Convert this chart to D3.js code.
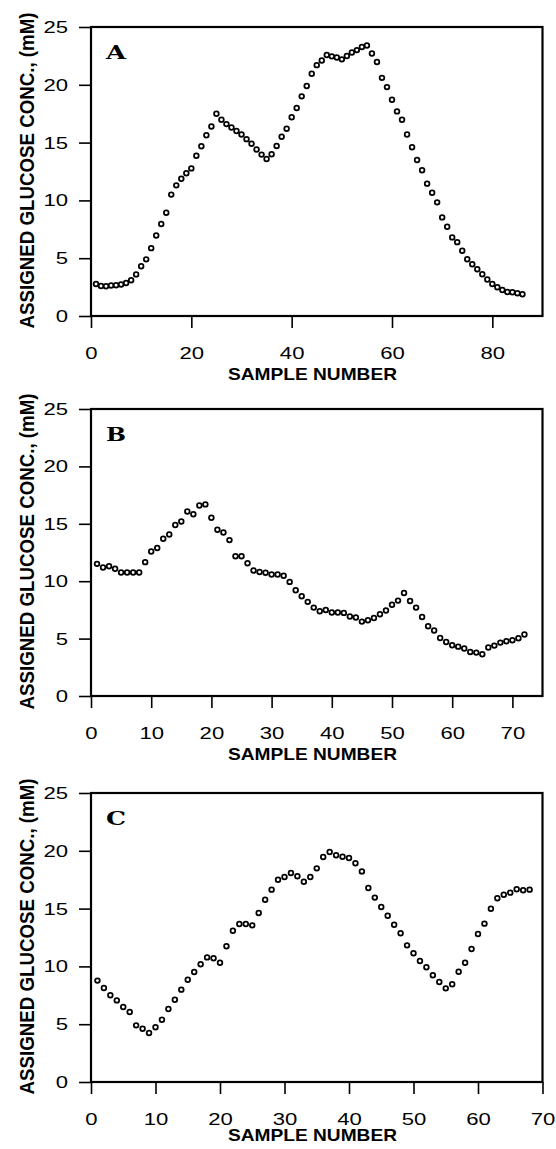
<!DOCTYPE html>
<html>
<head>
<meta charset="utf-8">
<script src="https://d3js.org/d3.v7.min.js"></script>
<style>
  body { margin: 0; background: #fff; }
  svg { display: block; }
</style>
</head>
<body>
<svg width="556" height="1149"></svg>
<script>
// glucose readings, one value per sample (sample number = position + 1)
var glucoseA = [2.77, 2.6, 2.57, 2.63, 2.66, 2.72, 2.86, 3.09, 3.6, 4.3,
  4.9, 5.87, 6.97, 7.95, 8.93, 10.5, 11.3, 11.88, 12.34, 12.77,
  13.87, 14.68, 15.64, 16.39, 17.49, 16.97, 16.6, 16.3, 16.0, 15.7,
  15.3, 14.9, 14.4, 13.96, 13.58, 14.0, 14.7, 15.5, 16.2, 17.2,
  18.0, 19.0, 19.9, 20.95, 21.7, 22.1, 22.57, 22.46, 22.37, 22.2,
  22.5, 22.8, 23.0, 23.27, 23.4, 22.7, 21.97, 20.6, 19.8, 18.7,
  17.7, 16.97, 15.7, 14.6, 13.5, 12.6, 11.45, 10.66, 9.83, 8.53,
  7.72, 6.8, 6.39, 5.64, 4.91, 4.48, 4.05, 3.61, 3.15, 2.77,
  2.49, 2.25, 2.08, 2.05, 1.97, 1.88];

var glucoseB = [11.51, 11.19, 11.3, 11.08, 10.76, 10.76, 10.76, 10.76, 11.66, 12.59,
  12.9, 13.7, 14.07, 14.9, 15.2, 16.08, 15.84, 16.6, 16.69, 15.52,
  14.48, 14.24, 13.58, 12.18, 12.18, 11.57, 10.93, 10.81, 10.73, 10.58,
  10.58, 10.47, 9.94, 9.22, 8.69, 8.2, 7.7, 7.38, 7.5, 7.27,
  7.27, 7.24, 6.92, 6.83, 6.48, 6.6, 6.8, 7.12, 7.44, 7.94,
  8.31, 8.98, 8.28, 7.7, 6.89, 6.08, 5.7, 5.06, 4.71, 4.42,
  4.3, 4.13, 3.84, 3.78, 3.63, 4.22, 4.39, 4.65, 4.77, 4.85,
  5.03, 5.35];

var glucoseC = [8.77, 8.13, 7.5, 7.06, 6.49, 6.06, 4.9, 4.61, 4.24, 4.73,
  5.39, 6.31, 7.12, 7.99, 8.85, 9.52, 10.18, 10.78, 10.7, 10.32,
  11.74, 13.09, 13.67, 13.67, 13.55, 14.62, 15.77, 16.64, 17.5, 17.73,
  18.08, 17.79, 17.33, 17.73, 18.48, 19.46, 19.9, 19.61, 19.49, 19.38,
  18.92, 18.22, 16.78, 15.95, 15.14, 14.39, 13.61, 12.86, 11.82, 11.13,
  10.47, 9.92, 9.23, 8.65, 8.1, 8.45, 9.54, 10.32, 11.5, 12.8,
  13.7, 14.99, 15.89, 16.2, 16.38, 16.67, 16.58, 16.64];

var yTicks = [0, 5, 10, 15, 20, 25];
var xTicksA = [0, 20, 40, 60, 80];
var xTicksB = [0, 10, 20, 30, 40, 50, 60, 70];
var xTicksC = [0, 10, 20, 30, 40, 50, 60, 70];

var panelLetters = ["A", "B", "C"];
var yTitle = "ASSIGNED GLUCOSE CONC., (mM)";
var xTitle = "SAMPLE NUMBER";

var svg = d3.select("svg");
svg.append("rect").attr("width", 556).attr("height", 1149).attr("fill", "#fff");

var left = 91, right = 542.5;

function drawPanel(values, xTicks, xMax, top, bottom, letter, titleGap) {
  var g = svg.append("g");

  var x = d3.scaleLinear().domain([0, xMax]).range([left, right]);
  var y = d3.scaleLinear().domain([0, 25]).range([bottom, top]);

  // y axis
  var ya = g.append("g")
    .attr("transform", "translate(" + left + ",0)")
    .call(d3.axisLeft(y).tickValues(yTicks).tickSize(12).tickPadding(11));
  ya.select(".domain").remove();

  // x axis
  var xa = g.append("g")
    .attr("transform", "translate(0," + bottom + ")")
    .call(d3.axisBottom(x).tickValues(xTicks).tickSize(12).tickPadding(19));
  xa.select(".domain").remove();

  g.selectAll(".tick line").attr("stroke", "#000").attr("stroke-width", 1.6);
  g.selectAll(".tick text")
    .attr("fill", "#000")
    .style("font-family", "'Liberation Sans', Arial, sans-serif")
    .style("font-size", "17px")
    .attr("textLength", function(d) { return String(d).length * 12.3; })
    .attr("lengthAdjust", "spacingAndGlyphs");

  // frame
  g.append("rect")
    .attr("x", left).attr("y", top)
    .attr("width", right - left).attr("height", bottom - top)
    .attr("fill", "none")
    .attr("stroke", "#000")
    .attr("stroke-width", 2.2);

  // points
  g.selectAll("circle")
    .data(values)
    .enter().append("circle")
    .attr("cx", function(d, i) { return x(i + 1); })
    .attr("cy", function(d) { return y(d); })
    .attr("r", 2.35)
    .attr("fill", "#fff")
    .attr("stroke", "#000")
    .attr("stroke-width", 1.75);

  // panel letter
  g.append("text")
    .attr("x", left + 15)
    .attr("y", top + 31.5)
    .attr("textLength", 20)
    .attr("lengthAdjust", "spacingAndGlyphs")
    .style("font-family", "'DejaVu Serif', serif")
    .style("font-weight", "bold")
    .style("font-size", "19px")
    .text(letter);

  // axis titles
  g.append("text")
    .attr("x", 312.5)
    .attr("y", bottom + titleGap)
    .attr("text-anchor", "middle")
    .attr("textLength", 169)
    .attr("lengthAdjust", "spacingAndGlyphs")
    .style("font-family", "'Liberation Sans', Arial, sans-serif")
    .style("font-weight", "bold")
    .style("font-size", "17px")
    .text(xTitle);

  g.append("text")
    .attr("transform", "translate(34," + ((top + bottom) / 2 - 1) + ") rotate(-90)")
    .attr("text-anchor", "middle")
    .attr("textLength", 316)
    .attr("lengthAdjust", "spacingAndGlyphs")
    .style("font-family", "'Liberation Sans', Arial, sans-serif")
    .style("font-weight", "bold")
    .style("font-size", "20px")
    .text(yTitle);
}

drawPanel(glucoseA, xTicksA, 90, 27, 316, panelLetters[0], 64);
drawPanel(glucoseB, xTicksB, 75, 409, 696, panelLetters[1], 64);
drawPanel(glucoseC, xTicksC, 70, 793, 1082, panelLetters[2], 58.5);
</script>
</body>
</html>
